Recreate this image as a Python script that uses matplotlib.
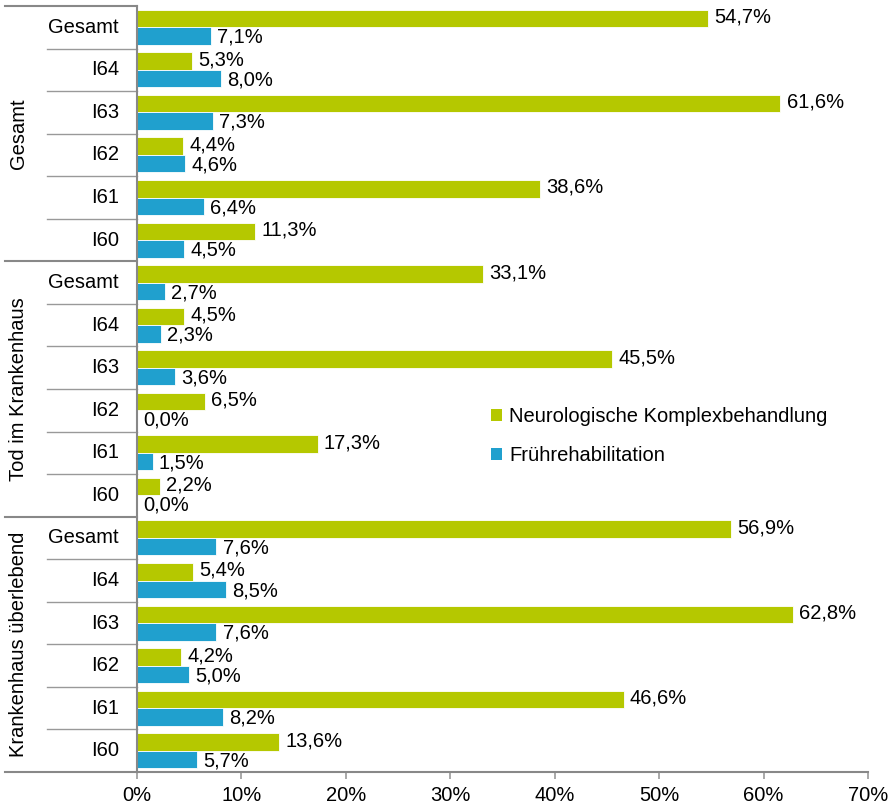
import matplotlib.pyplot as plt
from matplotlib.patches import Patch

plt.rcParams['font.family'] = ['Liberation Sans', 'DejaVu Sans']

groups = ["Gesamt", "Tod im Krankenhaus", "Krankenhaus überlebend"]
subcats = ["Gesamt", "I64", "I63", "I62", "I61", "I60"]

# values in percent, per group, order as subcats
neuro = [
    [54.7, 5.3, 61.6, 4.4, 38.6, 11.3],
    [33.1, 4.5, 45.5, 6.5, 17.3, 2.2],
    [56.9, 5.4, 62.8, 4.2, 46.6, 13.6],
]
frueh = [
    [7.1, 8.0, 7.3, 4.6, 6.4, 4.5],
    [2.7, 2.3, 3.6, 0.0, 1.5, 0.0],
    [7.6, 8.5, 7.6, 5.0, 8.2, 5.7],
]
legend_labels = ["Neurologische Komplexbehandlung", "Frührehabilitation"]

green = '#b5c800'
blue = '#20a0ce'
linecol = '#999999'
fs = 14.5

W, H = 895, 806
fig = plt.figure(figsize=(W / 100, H / 100), dpi=100)
ax = fig.add_axes([137 / W, 1 - 772 / H, (868 - 137) / W, (772 - 6) / H])

n = len(groups) * len(subcats)
pos = list(range(n))
g_vals = [v for grp in neuro for v in grp]
b_vals = [v for grp in frueh for v in grp]

bh = 0.41
ax.barh([p - bh / 2 for p in pos], g_vals, height=bh, color=green, edgecolor='white', linewidth=0.6)
ax.barh([p + bh / 2 for p in pos], b_vals, height=bh, color=blue, edgecolor='white', linewidth=0.6)

def fmt(v):
    return f"{v:.1f}%".replace('.', ',')

for p, v in zip(pos, g_vals):
    ax.text(v + 0.6, p - bh / 2 - 0.03, fmt(v), va='center', ha='left', fontsize=fs)
for p, v in zip(pos, b_vals):
    ax.text(v + 0.6, p + bh / 2 + 0.03, fmt(v), va='center', ha='left', fontsize=fs)

ax.set_xlim(0, 70)
ax.set_ylim(n - 0.5, -0.5)
ax.set_xticks(range(0, 71, 10))
ax.set_xticklabels([f"{t}%" for t in range(0, 71, 10)], fontsize=fs)
ax.set_yticks([])
ax.tick_params(axis='x', direction='out', length=5, color=linecol, width=1.2, pad=5)

for s in ['top', 'right']:
    ax.spines[s].set_visible(False)
ax.spines['left'].set_color('#888888')
ax.spines['left'].set_linewidth(1.5)
ax.spines['bottom'].set_color('#888888')
ax.spines['bottom'].set_linewidth(1.5)

tr = ax.get_yaxis_transform()
x_far = (5 - 137) / (868 - 137)
x_near = (47 - 137) / (868 - 137)
x_lab = (119 - 137) / (868 - 137)
x_grp = (18 - 137) / (868 - 137)

for k in range(n + 1):
    y = k - 0.5
    if k % len(subcats) == 0:
        ax.plot([x_far, 0], [y, y], transform=tr, color='#888888', lw=1.5, clip_on=False)
    else:
        ax.plot([x_near, 0], [y, y], transform=tr, color=linecol, lw=1.0, clip_on=False)

for gi, g in enumerate(groups):
    for si, s in enumerate(subcats):
        ax.text(x_lab, gi * len(subcats) + si, s, transform=tr, ha='right', va='center', fontsize=fs)
    ax.text(x_grp, gi * len(subcats) + 2.5, g, transform=tr, ha='center', va='center',
            rotation=90, fontsize=fs)

handles = [Patch(facecolor=green, edgecolor='none'), Patch(facecolor=blue, edgecolor='none')]
fig.legend(handles, legend_labels,
           loc='upper left', bbox_to_anchor=(473 / W, 1 - 389 / H), frameon=False, fontsize=fs,
           handlelength=0.55, handleheight=0.55, handletextpad=0.35, labelspacing=1.0)

fig.savefig('out.png', dpi=100)
